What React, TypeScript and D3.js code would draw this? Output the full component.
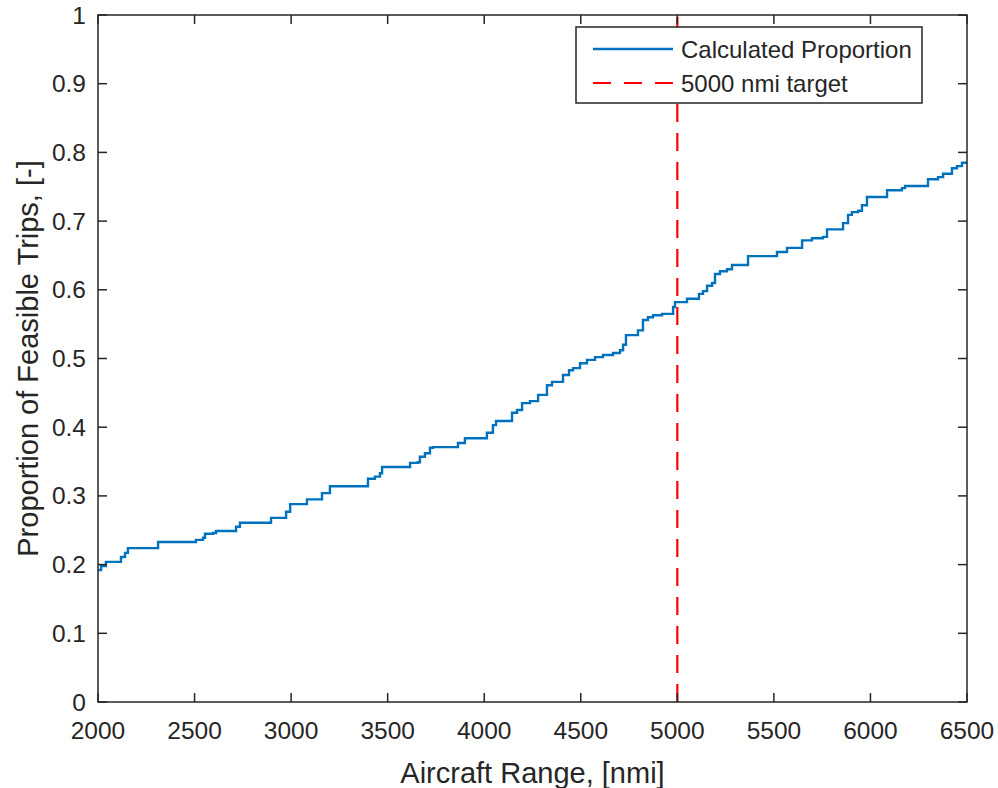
import React from "react";
import * as d3 from "d3";

const stepRanges = [
  2000, 2016, 2041, 2119, 2140, 2155, 2311, 2507, 2544, 2554, 2596, 2611, 2715, 2735, 2896, 2974,
  2995, 3082, 3160, 3201, 3398, 3434, 3460, 3471, 3616, 3657, 3667, 3693, 3719, 3735, 3864, 3900,
  4014, 4045, 4061, 4144, 4170, 4196, 4237, 4279, 4325, 4351, 4408, 4439, 4460, 4496, 4532, 4574,
  4615, 4667, 4703, 4719, 4734, 4796, 4822, 4848, 4874, 4921, 4978, 4988, 5050, 5112, 5133, 5154,
  5180, 5195, 5221, 5257, 5283, 5366, 5516, 5568, 5646, 5697, 5754, 5775, 5858, 5884, 5904, 5936,
  5956, 5982, 6086, 6163, 6179, 6298, 6350, 6376, 6422, 6448, 6474, 6500,
];
const stepProportions = [
  0.192, 0.198, 0.204, 0.211, 0.217, 0.224, 0.233, 0.236, 0.239, 0.245, 0.246, 0.249, 0.255, 0.261, 0.268, 0.277,
  0.288, 0.295, 0.304, 0.314, 0.325, 0.328, 0.333, 0.342, 0.348, 0.349, 0.357, 0.362, 0.37, 0.371, 0.377, 0.384,
  0.392, 0.403, 0.409, 0.421, 0.425, 0.435, 0.438, 0.447, 0.461, 0.466, 0.476, 0.483, 0.486, 0.493, 0.498, 0.502,
  0.505, 0.508, 0.512, 0.52, 0.534, 0.541, 0.556, 0.56, 0.563, 0.565, 0.575, 0.582, 0.587, 0.594, 0.598, 0.606,
  0.61, 0.623, 0.627, 0.63, 0.636, 0.649, 0.655, 0.661, 0.672, 0.675, 0.677, 0.688, 0.697, 0.709, 0.713, 0.715,
  0.723, 0.735, 0.745, 0.748, 0.751, 0.761, 0.764, 0.769, 0.777, 0.78, 0.785, 0.786,
];
const xTicks = [2000, 2500, 3000, 3500, 4000, 4500, 5000, 5500, 6000, 6500];
const yTicks = [0, 0.1, 0.2, 0.3, 0.4, 0.5, 0.6, 0.7, 0.8, 0.9, 1];
const targetRange = 5000;
const seriesLabels = ["Calculated Proportion", "5000 nmi target"];
const xLabel = "Aircraft Range, [nmi]";
const yLabel = "Proportion of Feasible Trips, [-]";

const W = 998;
const H = 788;
const L = 98, R = 967, T = 15, B = 702;
const axisColor = "#262626";
const font = "'Liberation Sans', Arial, Helvetica, sans-serif";

export default function App() {
  const x = d3.scaleLinear().domain([2000, 6500]).range([L, R]);
  const y = d3.scaleLinear().domain([0, 1]).range([B, T]);
  const pts: [number, number][] = stepRanges.map((r, i) => [r, stepProportions[i]]);
  const line = d3
    .line<[number, number]>()
    .x((d) => x(d[0]))
    .y((d) => y(d[1]))
    .curve(d3.curveStepAfter);
  const tickLen = 9;
  const fmtY = (v: number) => (v === 0 || v === 1 ? String(v) : v.toFixed(1));

  return (
    <svg
      width={W}
      height={H}
      style={{ position: "absolute", left: 0, top: 0, background: "#fff" }}
      fontFamily={font}
    >
      <rect x={0} y={0} width={W} height={H} fill="#fff" />
      <defs>
        <clipPath id="plotclip">
          <rect x={L} y={T} width={R - L} height={B - T} />
        </clipPath>
      </defs>
      {/* data */}
      <g clipPath="url(#plotclip)">
        <path d={line(pts) || ""} fill="none" stroke="#0072BD" strokeWidth={2.4} />
        <line
          x1={x(targetRange)}
          x2={x(targetRange)}
          y1={y(0)}
          y2={y(1)}
          stroke="#FF0000"
          strokeWidth={2.2}
          strokeDasharray="18,11"
        />
      </g>
      {/* ticks */}
      <g stroke={axisColor} strokeWidth={1.5}>
        {xTicks.map((t) => (
          <g key={"xt" + t}>
            <line x1={x(t)} x2={x(t)} y1={B} y2={B - tickLen} />
            <line x1={x(t)} x2={x(t)} y1={T} y2={T + tickLen} />
          </g>
        ))}
        {yTicks.map((t) => (
          <g key={"yt" + t}>
            <line x1={L} x2={L + tickLen} y1={y(t)} y2={y(t)} />
            <line x1={R} x2={R - tickLen} y1={y(t)} y2={y(t)} />
          </g>
        ))}
        <rect x={L} y={T} width={R - L} height={B - T} fill="none" />
      </g>
      {/* tick labels */}
      <g fill={axisColor} fontSize={24.5}>
        {xTicks.map((t) => (
          <text key={"xl" + t} x={x(t)} y={B + 37} textAnchor="middle">
            {t}
          </text>
        ))}
        {yTicks.map((t) => (
          <text key={"yl" + t} x={L - 12} y={y(t) + 8.5} textAnchor="end">
            {fmtY(t)}
          </text>
        ))}
      </g>
      {/* axis labels */}
      <text x={(L + R) / 2} y={783} textAnchor="middle" fontSize={29} fill={axisColor}>
        {xLabel}
      </text>
      <text
        transform={`translate(38, ${(T + B) / 2}) rotate(-90)`}
        textAnchor="middle"
        fontSize={29}
        fill={axisColor}
      >
        {yLabel}
      </text>
      {/* legend */}
      <g>
        <rect x={576} y={27} width={346} height={76} fill="#fff" stroke={axisColor} strokeWidth={1.5} />
        <line x1={593} x2={673} y1={49} y2={49} stroke="#0072BD" strokeWidth={2.4} />
        <line x1={593} x2={673} y1={83} y2={83} stroke="#FF0000" strokeWidth={2.2} strokeDasharray="18,13" />
        <text x={681} y={58} fontSize={24} fill={axisColor}>
          {seriesLabels[0]}
        </text>
        <text x={681} y={92} fontSize={24} fill={axisColor}>
          {seriesLabels[1]}
        </text>
      </g>
    </svg>
  );
}
